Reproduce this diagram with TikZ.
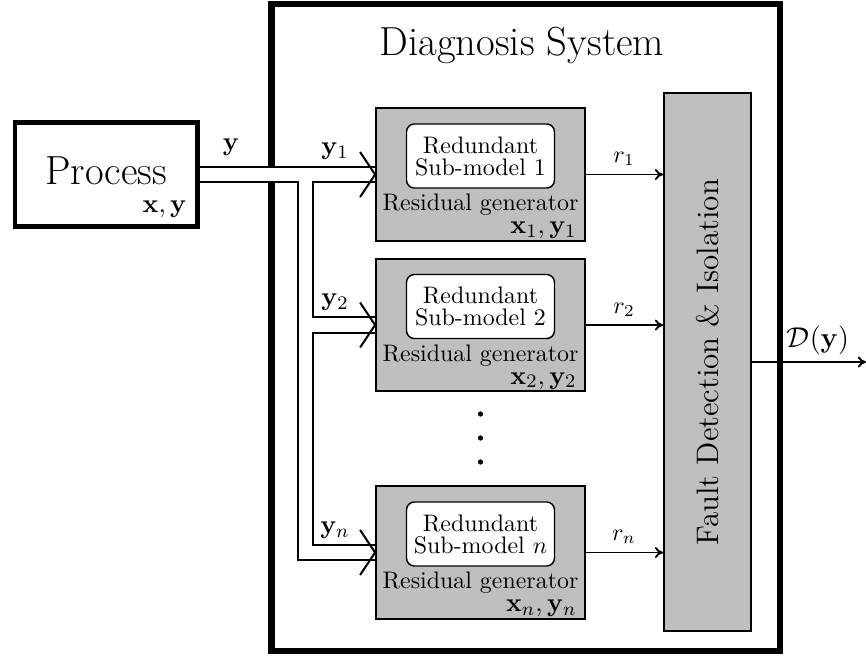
\documentclass[tikz,border=0pt]{standalone}
\usepackage{amsmath}
\usepackage{amssymb}
\usepackage{xcolor}
\usepackage{tikz}
\usetikzlibrary{arrows}
\usetikzlibrary{arrows.meta}

\begin{document}
\begin{tikzpicture}[x=0.4184pt, y=-0.4184pt,
	>={To[length=3.4pt,width=4.6pt]},
    frame/.style = {rectangle, draw=black, line width=2.6pt,
                   minimum width=212.8pt, minimum height=270.7pt},
    plant/.style = {rectangle, draw=black, line width=2pt,
                   minimum width=76.4pt, minimum height=43.5pt},
    gen/.style = {rectangle, draw=black, line width=0.8pt, fill=black!25,
                   minimum width=87.4pt, minimum height=55.6pt, inner sep=0pt},
    fdi/.style = {gen, minimum width=36.4pt, minimum height=225.1pt},
    submodel/.style = {rectangle, rounded corners=3.3pt, draw=black,
                   line width=0.6pt, fill=white, align=center, inner sep=0pt,
                   minimum width=61.9pt, minimum height=26.8pt,
                   font=\fontsize{10}{9.2}\selectfont},
    big/.style = {font=\fontsize{17}{20}\selectfont},
    lab/.style = {font=\fontsize{11}{13}\selectfont, inner sep=0pt},
    rlab/.style = {font=\fontsize{10}{12}\selectfont, inner sep=0pt},
    pipe/.style = {double, double distance=5.6pt, line width=0.85pt},
    barb/.style = {line width=0.85pt},
    sig/.style = {->, line width=0.8pt}]
  \useasboundingbox (0,0) rectangle (866,660);

  \node (frame) [frame] at (525.75,327.5) {};
  \node (title) [big, anchor=base] at (522,55) {Diagnosis System};

  \node (process) [plant] at (106.25,174.5) {};
  \node (ptext) [big, anchor=base] at (106,184) {Process};
  \node (pstate) [lab, anchor=base east] at (187,212) {$\mathbf{x},\mathbf{y}$};

  % residual generators
  \node (gen1) [gen] at (480.5,174.5) {};
  \node (sub1) [submodel] at ([shift={(0,-18.5)}]gen1.center) {Redundant\\Sub-model 1};
  \node (res1) [rlab, anchor=base] at ([shift={(0,36)}]gen1.center) {Residual generator};
  \node (st1) [lab, anchor=base east] at ([shift={(96.5,59)}]gen1.center) {$\mathbf{x}_1,\mathbf{y}_1$};

  \node (gen2) [gen] at (480.5,325) {};
  \node (sub2) [submodel] at ([shift={(0,-18.5)}]gen2.center) {Redundant\\Sub-model 2};
  \node (res2) [rlab, anchor=base] at ([shift={(0,36)}]gen2.center) {Residual generator};
  \node (st2) [lab, anchor=base east] at ([shift={(96.5,59)}]gen2.center) {$\mathbf{x}_2,\mathbf{y}_2$};

  \node (genn) [gen] at (480.5,552.5) {};
  \node (subn) [submodel] at ([shift={(0,-18.5)}]genn.center) {Redundant\\Sub-model $n$};
  \node (resn) [rlab, anchor=base] at ([shift={(0,36)}]genn.center) {Residual generator};
  \node (stn) [lab, anchor=base east] at ([shift={(96.5,59)}]genn.center) {$\mathbf{x}_n,\mathbf{y}_n$};

  \foreach \d in {414,438,462}
    \fill (480.5,\d) circle (1.1pt);

  \node (fdi) [fdi] at (707.5,362) {};
  \node (fditext) [rotate=90, font=\fontsize{13}{15}\selectfont] at (fdi.center) {Fault Detection \& Isolation};

  % measurement pipes
  \coordinate (split) at (305.5,174.5);
  \draw[pipe] (process.east |- gen1.west) -- (gen1.west)
    (split) |- (gen2.west)
    (split) |- (genn.west);
  \draw[barb] ([shift={(-15,-22.5)}]gen1.west) -- (gen1.west) -- ++(-15,22.5);
  \draw[barb] ([shift={(-15,-22.5)}]gen2.west) -- (gen2.west) -- ++(-15,22.5);
  \draw[barb] ([shift={(-15,-22.5)}]genn.west) -- (genn.west) -- ++(-15,22.5);

  \node (ylab) [lab] at (231,147) {$\mathbf{y}$};
  \node (y1) [lab] at (335,151) {$\mathbf{y}_1$};
  \node (y2) [lab] at (335,302) {$\mathbf{y}_2$};
  \node (yn) [lab] at (335,530) {$\mathbf{y}_n$};

  % residuals
  \draw[sig] (gen1.east) -- (gen1.east -| fdi.west);
  \draw[sig] (gen2.east) -- (gen2.east -| fdi.west);
  \draw[sig] (genn.east) -- (genn.east -| fdi.west);
  \node (r1) [rlab] at (624,159) {$r_1$};
  \node (r2) [rlab] at (624,310) {$r_2$};
  \node (rn) [rlab] at (624,537) {$r_n$};

  \coordinate (dout) at (866,362);
  \draw[sig] (fdi.east) -- (dout);
  \node (dlab) [font=\fontsize{12}{14}\selectfont, inner sep=0pt] at (818,340) {$\mathcal{D}(\mathbf{y})$};
\end{tikzpicture}
\end{document}
